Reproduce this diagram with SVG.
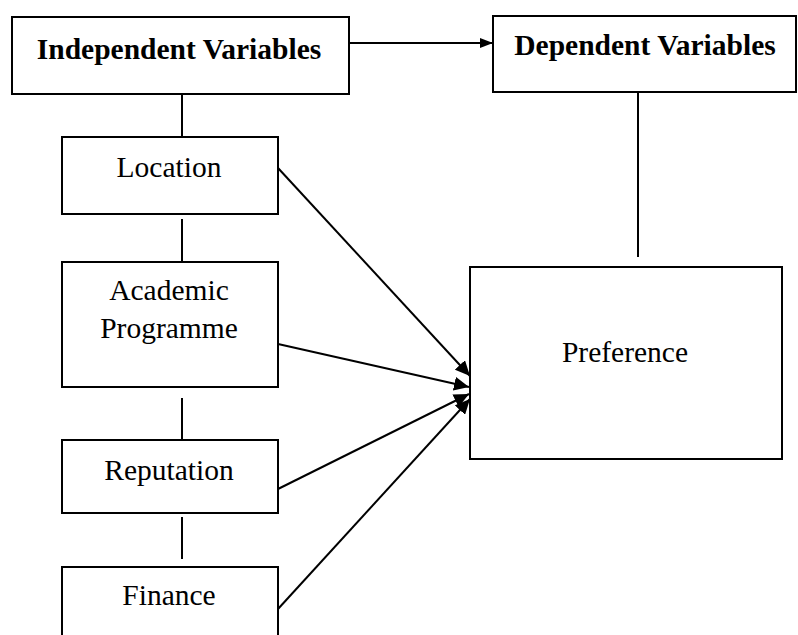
<svg xmlns="http://www.w3.org/2000/svg" width="798" height="635" viewBox="0 0 798 635">
<style>
.box{fill:#fff;stroke:#000;stroke-width:2}
.t{font-family:"Liberation Serif","Times New Roman",serif;font-size:29.5px;fill:#000;text-anchor:middle}
.b{font-weight:bold}
.c{stroke:#000;stroke-width:2;fill:none}
</style>
<defs>
<marker id="ah" markerUnits="userSpaceOnUse" markerWidth="16" markerHeight="14" refX="15" refY="7" orient="auto">
<path d="M0,0 L15,7 L0,14 Z" fill="#000"/>
</marker>
<marker id="ah2" markerUnits="userSpaceOnUse" markerWidth="14" markerHeight="10" refX="13" refY="5" orient="auto">
<path d="M0,0 L13,5 L0,10 Z" fill="#000"/>
</marker>
</defs>
<g id="connectors">
<line class="c" x1="349" y1="43" x2="493" y2="43" marker-end="url(#ah2)"/>
<line class="c" x1="182" y1="94" x2="182" y2="137"/>
<line class="c" x1="182" y1="219" x2="182" y2="262"/>
<line class="c" x1="182" y1="398" x2="182" y2="440"/>
<line class="c" x1="182" y1="517" x2="182" y2="559"/>
<line class="c" x1="638" y1="92" x2="638" y2="257"/>
<line class="c" x1="278" y1="168" x2="470" y2="376" marker-end="url(#ah)"/>
<line class="c" x1="278" y1="344" x2="469" y2="387" marker-end="url(#ah)"/>
<line class="c" x1="278" y1="489" x2="469" y2="394" marker-end="url(#ah)"/>
<line class="c" x1="278" y1="609" x2="470" y2="399" marker-end="url(#ah)"/>
</g>
<g id="independent">
<rect class="box" x="12" y="17" width="337" height="77"/>
<text class="t b" x="179" y="59">Independent Variables</text>
</g>
<g id="dependent">
<rect class="box" x="493" y="16" width="303" height="76"/>
<text class="t b" x="645" y="55">Dependent Variables</text>
</g>
<g id="location">
<rect class="box" x="62" y="137" width="216" height="77"/>
<text class="t" x="169" y="177">Location</text>
</g>
<g id="academic">
<rect class="box" x="62" y="262" width="216" height="125"/>
<text class="t" x="169" y="300">Academic</text>
<text class="t" x="169" y="338">Programme</text>
</g>
<g id="reputation">
<rect class="box" x="62" y="440" width="216" height="73"/>
<text class="t" x="169" y="480">Reputation</text>
</g>
<g id="finance">
<rect class="box" x="62" y="567" width="216" height="80"/>
<text class="t" x="169" y="605">Finance</text>
</g>
<g id="preference">
<rect class="box" x="470" y="267" width="312" height="192"/>
<text class="t" x="625" y="362">Preference</text>
</g>
</svg>
